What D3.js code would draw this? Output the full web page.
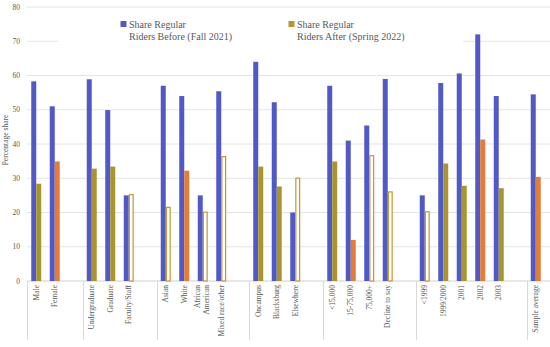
<!DOCTYPE html>
<html>
<head>
<script src="https://d3js.org/d3.v7.min.js"></script>
<style>
  body { margin: 0; background: #fff; }
  text { font-family: "Liberation Serif", "DejaVu Serif", serif; fill: #595959; }
</style>
</head>
<body>
<svg width="550" height="347"></svg>
<script>
var categories = ["Male", "Female", "Undergraduate", "Graduate", "Faculty/Staff",
  "Asian", "White", "African American", "Mixed race/other",
  "Oncampus", "Blacksburg", "Elsewhere",
  "<15,000", "15-75,000", "75,000+", "Decline to say",
  "<1999", "1999/2000", "2001", "2002", "2003", "Sample average"];
var groupSizes = [2, 3, 4, 3, 4, 5, 1];
var before = [58.3, 51, 58.9, 49.9, 25, 57, 54, 25, 55.4, 64, 52.2, 20,
  57, 41, 45.4, 59, 25, 57.8, 60.6, 72, 54, 54.5];
var after = [28.4, 34.9, 32.8, 33.4, 25.2, 21.5, 32.2, 20.1, 36.3, 33.4, 27.6, 30,
  34.9, 12, 36.6, 26, 20.2, 34.3, 27.8, 41.3, 27.1, 30.4];
// o = olive, r = orange, h = hollow
var afterStyle = ["o", "r", "o", "o", "h", "h", "r", "h", "h", "o", "o", "h",
  "o", "r", "h", "h", "h", "o", "o", "r", "o", "r"];
var seriesNames = [["Share Regular", "Riders Before (Fall 2021)"],
  ["Share Regular", "Riders After (Spring 2022)"]];
var yTicks = [0, 10, 20, 30, 40, 50, 60, 70, 80];

var blue = "#5059c6", orange = "#e27c36", olive = "#a8952f", gold = "#c8952c";

var svg = d3.select("svg");

// slots with gaps between groups
var slots = [], gapEnds = [], k = 0;
groupSizes.forEach(function(n, g) {
  for (var i = 0; i < n; i++) slots.push(categories[k++]);
  if (g < groupSizes.length - 1) { slots.push("gap" + g); gapEnds.push("gap" + g); }
});

var x = d3.scaleBand().domain(slots).range([27, 545]);
var y = d3.scaleLinear().domain([0, 80]).range([281, 7]);
var bw = x.bandwidth() * 0.27;

// gridlines
svg.selectAll(".grid").data(yTicks).enter().append("line")
  .attr("x1", 27).attr("x2", 550)
  .attr("y1", function(d) { return y(d); }).attr("y2", function(d) { return y(d); })
  .attr("stroke", function(d) { return d === 0 ? "#d0d0d0" : "#e4e4e4"; })
  .attr("stroke-width", 1);

svg.selectAll(".ytick").data(yTicks).enter().append("text")
  .attr("x", 20).attr("y", function(d) { return y(d) + 2.5; })
  .attr("text-anchor", "end").attr("font-size", 7.5)
  .text(function(d) { return d; });

svg.append("text")
  .attr("transform", "translate(8,140) rotate(-90)")
  .attr("text-anchor", "middle").attr("font-size", 7.5)
  .text("Percentage share");

// group separators
var seps = [27].concat(gapEnds.map(function(g) { return x(g) + x.bandwidth(); }));
svg.selectAll(".sep").data(seps).enter().append("line")
  .attr("x1", function(d) { return Math.round(d) + 0.5; })
  .attr("x2", function(d) { return Math.round(d) + 0.5; })
  .attr("y1", 281).attr("y2", 340)
  .attr("stroke", "#d9d9d9");

// bars
var cx = function(i) { return x(categories[i]) + x.bandwidth() / 2; };
svg.selectAll(".before").data(before).enter().append("rect")
  .attr("x", function(d, i) { return cx(i) - bw; })
  .attr("y", function(d) { return y(d); })
  .attr("width", bw)
  .attr("height", function(d) { return y(0) - y(d); })
  .attr("fill", blue);

svg.selectAll(".after").data(after).enter().append("rect")
  .attr("x", function(d, i) { return cx(i) + (afterStyle[i] === "h" ? 0.6 : 0); })
  .attr("y", function(d) { return y(d); })
  .attr("width", function(d, i) { return afterStyle[i] === "h" ? bw - 1.2 : bw; })
  .attr("height", function(d) { return y(0) - y(d); })
  .attr("fill", function(d, i) {
    return afterStyle[i] === "h" ? "#fff" : afterStyle[i] === "r" ? orange : olive;
  })
  .attr("stroke", function(d, i) { return afterStyle[i] === "h" ? gold : "none"; })
  .attr("stroke-width", 1.2);

// x labels
categories.forEach(function(c, i) {
  var lines = c === "African American" ? ["African", "American"] : [c];
  lines.forEach(function(l, j) {
    var off = lines.length > 1 ? (j === 0 ? -3 : 6) : 2.5;
    svg.append("text")
      .attr("transform", "translate(" + (cx(i) + off) + ",285) rotate(-90)")
      .attr("text-anchor", "end").attr("font-size", 7.5)
      .text(l);
  });
});

// legend
svg.append("rect").attr("x", 58).attr("y", 13).attr("width", 405).attr("height", 32)
  .attr("fill", "#fff");
var legX = [120.5, 288.5], legC = [blue, "#b8962e"];
seriesNames.forEach(function(s, i) {
  svg.append("rect").attr("x", legX[i]).attr("y", 21).attr("width", 6).attr("height", 6)
    .attr("fill", legC[i]);
  svg.append("text").attr("x", legX[i] + 8.5).attr("y", 27.5).attr("font-size", 10).text(s[0]);
  svg.append("text").attr("x", legX[i] + 8.5).attr("y", 40).attr("font-size", 10).text(s[1]);
});
</script>
</body>
</html>
